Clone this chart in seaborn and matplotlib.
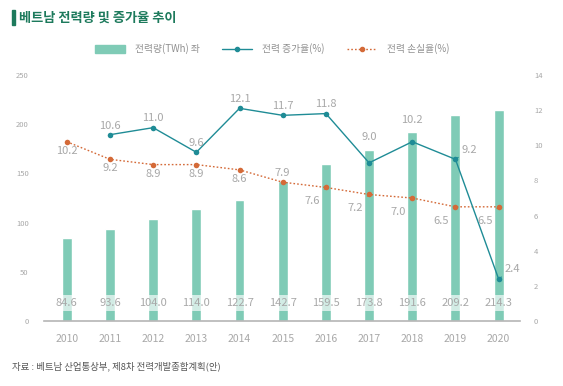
import pandas as pd
import matplotlib.pyplot as plt
import seaborn as sns
from matplotlib.patches import Rectangle
from matplotlib.lines import Line2D
from matplotlib.patches import Patch

years = ['2010', '2011', '2012', '2013', '2014', '2015', '2016', '2017', '2018', '2019', '2020']
power_twh = [84.6, 93.6, 104.0, 114.0, 122.7, 142.7, 159.5, 173.8, 191.6, 209.2, 214.3]
growth_years = ['2011', '2012', '2013', '2014', '2015', '2016', '2017', '2018', '2019', '2020']
growth_rate = [10.6, 11.0, 9.6, 12.1, 11.7, 11.8, 9.0, 10.2, 9.2, 2.4]
loss_rate = [10.2, 9.2, 8.9, 8.9, 8.6, 7.9, 7.6, 7.2, 7.0, 6.5, 6.5]

BAR = '#7fcbb6'
TEAL = '#1f8c96'
ORANGE = '#d46a38'
GRAY = '#a8a8a8'

sns.set_theme(style='white')
plt.rcParams['font.family'] = ['Noto Sans CJK KR', 'DejaVu Sans']

df = pd.DataFrame({'year': years, 'power': power_twh, 'loss': loss_rate,
                   'x': range(len(years))})
gdf = pd.DataFrame({'year': growth_years, 'growth': growth_rate,
                    'x': [years.index(y) for y in growth_years]})

fig = plt.figure(figsize=(5.63, 3.86), dpi=100)
ax = fig.add_axes([0.078, 0.168, 0.846, 0.638])

sns.barplot(data=df, x='x', y='power', color=BAR, width=0.23, ax=ax,
            saturation=1, native_scale=True)
ax.set_xlim(-0.53, 10.5)
ax.set_ylim(0, 250)
ax.set_yticks(range(0, 251, 50))
ax.set_xticks(range(len(years)))
ax.set_xticklabels(years)
ax.tick_params(axis='x', length=0, pad=9, labelsize=7.5, labelcolor=GRAY)
ax.tick_params(axis='y', length=0, pad=11, labelsize=5.5, labelcolor=GRAY)
ax.set_xlabel('')
ax.set_ylabel('')
for s in ['top', 'left', 'right']:
    ax.spines[s].set_visible(False)
ax.spines['bottom'].set_color('#b5b5b5')
ax.spines['bottom'].set_linewidth(1.2)

# bar value labels
for i, v in enumerate(power_twh):
    ax.text(i, 18.5, f'{v:.1f}', ha='center', va='center', fontsize=8, color=GRAY,
            bbox=dict(boxstyle='square,pad=0.25', fc='white', ec='none', alpha=0.65))

ax2 = ax.twinx()
sns.lineplot(data=df, x='x', y='loss', color=ORANGE, linestyle=(0, (1.2, 1.5)),
             linewidth=1, marker='o', markersize=4, markeredgewidth=0, ax=ax2)
sns.lineplot(data=gdf, x='x', y='growth', color=TEAL, linewidth=1,
             marker='o', markersize=4, markeredgewidth=0, ax=ax2)
ax2.set_ylim(0, 14)
ax2.set_yticks(range(0, 15, 2))
ax2.tick_params(axis='y', length=0, pad=10, labelsize=5.5, labelcolor=GRAY)
ax2.set_ylabel('')
for s in ax2.spines.values():
    s.set_visible(False)

# growth labels (extra lift where the label would sit on a bar)
lift = {'2017': 12, '2018': 9}
for yr, x, v in zip(growth_years, gdf['x'], growth_rate):
    if x >= 9:
        ax2.annotate(f'{v:.1f}', (x, v), xytext=(10, 7), textcoords='offset points',
                     ha='center', va='center', fontsize=8, color=GRAY,
                     arrowprops=dict(arrowstyle='-', color=TEAL, lw=0.8,
                                     shrinkA=4, shrinkB=0))
    else:
        ax2.annotate(f'{v:.1f}', (x, v), xytext=(0, 3 + lift.get(yr, 0)),
                     textcoords='offset points',
                     ha='center', va='bottom', fontsize=8, color=GRAY)

# loss labels
for x, v in enumerate(loss_rate):
    if x >= 6:
        ax2.annotate(f'{v:.1f}', (x, v), xytext=(-10, -10), textcoords='offset points',
                     ha='center', va='center', fontsize=8, color=GRAY,
                     arrowprops=dict(arrowstyle='-', color=ORANGE, lw=0.8,
                                     shrinkA=4, shrinkB=0))
    elif x == 5:
        ax2.annotate(f'{v:.1f}', (x, v), xytext=(0, 3), textcoords='offset points',
                     ha='center', va='bottom', fontsize=8, color=GRAY)
    else:
        ax2.annotate(f'{v:.1f}', (x, v), xytext=(0, -3), textcoords='offset points',
                     ha='center', va='top', fontsize=8, color=GRAY)

# legend
handles = [Patch(color=BAR),
           Line2D([], [], color=TEAL, lw=1, marker='o', markersize=3),
           Line2D([], [], color=ORANGE, lw=1, linestyle=(0, (1.2, 1.5)), marker='o', markersize=3)]
labels = ['전력량(TWh) 좌', '전력 증가율(%)', '전력 손실율(%)']
fig.legend(handles, labels, loc='center', bbox_to_anchor=(0.483, 0.873), ncol=3,
           frameon=False, fontsize=7, labelcolor='#909090', handlelength=3.1,
           handleheight=0.9, columnspacing=2.3, handletextpad=1.0)

# title and source
fig.patches.append(Rectangle((0.021, 0.935), 0.005, 0.04, transform=fig.transFigure,
                             color='#1d7a5c'))
fig.text(0.034, 0.955, '베트남 전력량 및 증가율 추이', fontsize=9.5, fontweight='bold',
         color='#1d7a5c', va='center', ha='left')
fig.text(0.021, 0.052, '자료 : 베트남 산업통상부, 제8차 전력개발종합계획(안)', fontsize=6.8,
         color='#555555', va='center', ha='left')

fig.savefig('out.png', dpi=100)
